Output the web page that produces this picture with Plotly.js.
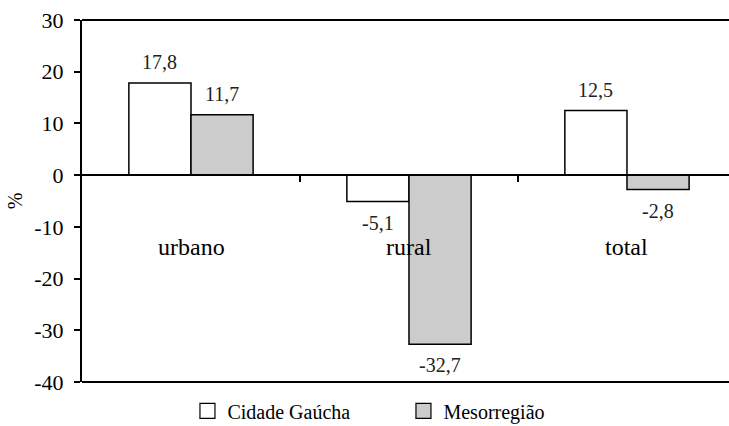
<!DOCTYPE html>
<html>
<head>
<meta charset="utf-8">
<script src="https://cdn.plot.ly/plotly-3.0.1.min.js"></script>
<style>html,body{margin:0;padding:0;background:#fff;}#chart{width:729px;height:426px;}</style>
</head>
<body>
<div id="chart"></div>
<script>
const categories = ["urbano", "rural", "total"];
const cidadeGaucha = [17.8, -5.1, 12.5];
const mesorregiao = [11.7, -32.7, -2.8];
const seriesNames = ["Cidade Gaúcha", "Mesorregião"];
const yTicks = [-40, -30, -20, -10, 0, 10, 20, 30];
const yTickLabels = ["-40", "-30", "-20", "-10", "0", "10", "20", "30"];

const FONT = '"Liberation Serif"';
const bargap = 0.43;
const xIdx = categories.map((c, i) => i);
const fmt = v => v.toFixed(1).replace('.', ',');

const colors = ["#ffffff", "#cccccc"];
const series = [cidadeGaucha, mesorregiao];

const traces = series.map((vals, k) => ({
  type: 'bar', x: xIdx, y: vals, name: seriesNames[k], showlegend: false,
  marker: {color: colors[k], line: {color: '#000', width: 1.5}},
  hoverinfo: 'skip'
}));
series.forEach((vals, k) => traces.push({
  type: 'scatter', mode: 'markers', x: [null], y: [null], name: seriesNames[k],
  marker: {symbol: 'square', size: 15, color: colors[k], line: {color: '#000', width: 1.2}}
}));

const half = (1 - bargap) / 4;
const annotations = [];
series.forEach((vals, k) => {
  vals.forEach((v, i) => {
    annotations.push({
      x: i + (k === 0 ? -half : half), y: v, xref: 'x', yref: 'y',
      text: fmt(v), showarrow: false, yanchor: 'middle',
      yshift: v >= 0 ? 21 : -21,
      font: {family: FONT, size: 20, color: '#222'}
    });
  });
});
categories.forEach((c, i) => annotations.push({
  x: i, y: 0.373, xref: 'x', yref: 'paper', text: c, showarrow: false,
  yanchor: 'middle', font: {family: FONT, size: 24, color: '#000'}
}));

const layout = {
  width: 729, height: 426,
  margin: {l: 82, r: 0, t: 20, b: 44, autoexpand: false},
  paper_bgcolor: '#fff', plot_bgcolor: '#fff',
  font: {family: FONT, color: '#000'},
  barmode: 'group', bargap: bargap, bargroupgap: 0,
  xaxis: {
    type: 'linear', range: [-0.5, 2.468], anchor: 'free',
    position: 40 / 70,
    tickvals: [0.5, 1.5], ticks: 'outside', ticklen: 6, tickwidth: 2, tickcolor: '#000',
    showticklabels: false, showgrid: false, zeroline: false,
    showline: true, linecolor: '#000', linewidth: 2, fixedrange: true
  },
  yaxis: {
    range: [-40, 30], tickvals: yTicks, ticktext: yTickLabels, ticks: 'outside', ticklen: 6, tickwidth: 2,
    tickcolor: '#000', showline: true, linecolor: '#000', linewidth: 2, ticklabelstandoff: 6,
    showgrid: false, zeroline: false, tickfont: {family: FONT, size: 22, color: '#000'},
    title: {text: '%', font: {family: FONT, size: 20, color: '#000'}, standoff: 6}
  },
  shapes: [
    {type: 'line', xref: 'paper', yref: 'paper', x0: 0, x1: 1, y0: 1, y1: 1, line: {color: '#000', width: 2}},
    {type: 'line', xref: 'paper', yref: 'paper', x0: 0, x1: 1, y0: 0, y1: 0, line: {color: '#000', width: 2}}
  ],
  legend: {
    orientation: 'h', x: 0.163, xanchor: 'left', y: -0.08, yanchor: 'middle',
    font: {family: FONT, size: 20, color: '#000'}, itemwidth: 30, tracegroupgap: 0,
    entrywidth: 171, entrywidthmode: 'pixels',
    bgcolor: 'rgba(0,0,0,0)'
  },
  annotations: annotations
};

Plotly.newPlot('chart', traces, layout, {displayModeBar: false, staticPlot: true});
</script>
</body>
</html>
